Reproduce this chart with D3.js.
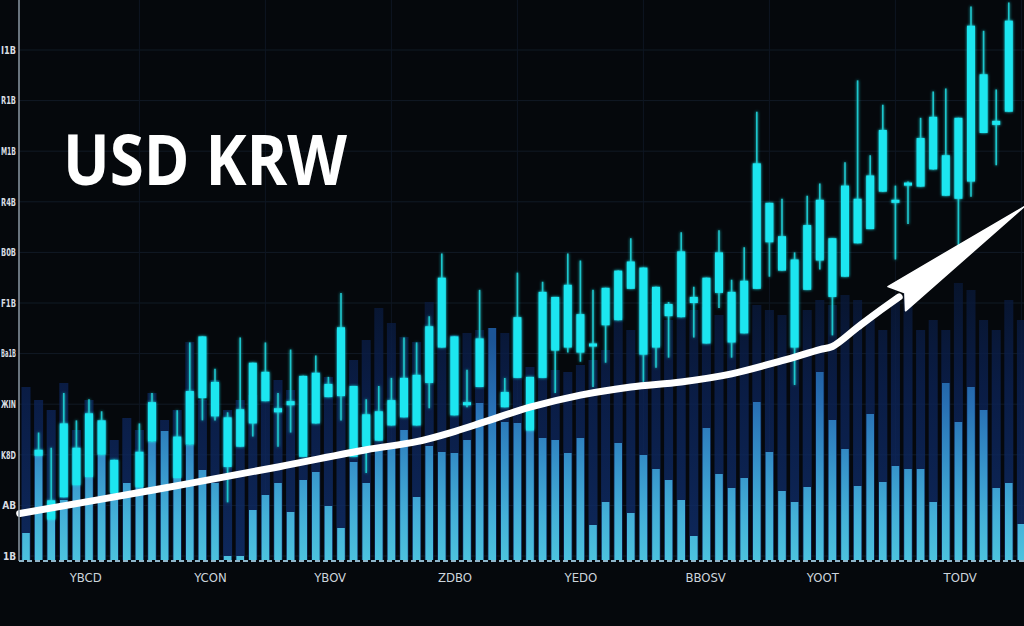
<!DOCTYPE html>
<html>
<head>
<meta charset="utf-8">
<script src="https://cdn.jsdelivr.net/npm/d3@7"></script>
<style>
  html, body { margin: 0; padding: 0; background: #05080c; }
  #chart { width: 1024px; height: 626px; }
</style>
</head>
<body>
<div id="chart"></div>
<script>
var title = 'USD KRW';

var yTickValues = [1000, 1050, 1100, 1150, 1200, 1250, 1300, 1350, 1400, 1450, 1500];
var yTickLabels = ['1B', 'AB', 'K8D', 'ЖIN', 'Ba1B', 'F1B', 'B0B', 'R4B', 'M1B', 'R1B', 'I1B'];

var xTickSlots = [4.7, 14.6, 24.1, 34, 44, 53.9, 63.2, 74.1];
var xTickLabels = ['YBCD', 'YCON', 'YBOV', 'ZDBO', 'YEDO', 'BBOSV', 'YOOT', 'TODV'];

// one entry per session, null where no candle shows
var highs = [null, 1122, 1107, 1161, 1134, 1155, 1143, 1095, null, 1131,
  1161, null, 1144, 1211, 1217, 1185, 1142, 1216, 1191, 1211,
  1161, 1204, 1178, 1198, 1177, 1260, 1168, 1155, 1168, 1176,
  1216, 1211, 1237, 1299, 1217, 1184, 1263, null, 1176, 1280,
  1177, 1271, 1256, 1299, 1292, 1263, 1265, 1282, 1314, 1285,
  1266, 1251, 1320, 1266, 1275, 1322, 1273, 1305, 1439, 1349,
  1353, 1300, 1356, 1368, 1314, 1389, 1470, 1396, 1446, 1366,
  1370, 1433, 1459, 1462, 1433, 1543, 1519, 1461, 1547, null];

var closes = [null, 1105, 1055, 1131, 1107, 1141, 1134, 1095, null, 1103,
  1152, null, 1118, 1163, 1217, 1172, 1137, 1145, 1191, 1182,
  1146, 1153, 1178, 1181, 1170, 1226, 1168, 1140, 1143, 1154,
  1176, 1179, 1227, 1275, 1217, 1152, 1215, null, 1162, 1236,
  1177, 1261, 1256, 1268, 1239, 1210, 1265, 1282, 1291, 1285,
  1266, 1249, 1301, 1256, 1275, 1300, 1261, 1272, 1388, 1349,
  1316, 1293, 1327, 1352, 1314, 1366, 1353, 1376, 1421, 1352,
  1369, 1413, 1434, 1396, 1433, 1524, 1476, 1430, 1529, null];

var opens = [null, 1099, 1036, 1058, 1070, 1078, 1100, 1062, null, 1068,
  1113, null, 1077, 1110, 1156, 1138, 1088, 1108, 1131, 1153,
  1142, 1149, 1098, 1131, 1157, 1158, 1098, 1108, 1114, 1129,
  1137, 1129, 1171, 1206, 1139, 1149, 1167, null, 1147, 1176,
  1124, 1176, 1203, 1206, 1201, 1207, 1228, 1233, 1264, 1199,
  1206, 1237, 1236, 1250, 1210, 1260, 1211, 1220, 1264, 1310,
  1282, 1206, 1263, 1292, 1256, 1276, 1309, 1323, 1360, 1349,
  1366, 1365, 1382, 1356, 1353, 1370, 1418, 1426, 1439, null];

var lows = [null, 1099, 1036, 1058, 1070, 1078, 1100, 1062, null, 1068,
  1113, null, 1077, 1110, 1134, 1134, 1053, 1108, 1118, 1153,
  1108, 1122, 1098, 1131, 1157, 1134, 1098, 1082, 1114, 1129,
  1137, 1129, 1146, 1206, 1139, 1147, 1167, null, 1147, 1176,
  1124, 1176, 1161, 1201, 1192, 1167, 1191, 1233, 1264, 1172,
  1186, 1196, 1236, 1216, 1210, 1245, 1196, 1220, 1264, 1276,
  1282, 1169, 1263, 1283, 1218, 1276, 1309, 1323, 1360, 1293,
  1328, 1365, 1382, 1356, 1307, 1355, 1418, 1386, 1439, null];

var volumes = [27, 110, 55, 60, 75, 83, 105, 67, 77, 73,
  118, 129, 82, 115, 90, 77, 4, 4, 50, 65,
  77, 48, 80, 88, 54, 32, 98, 77, 110, 113,
  130, 63, 114, 108, 107, 120, 157, 232, 138, 137,
  130, 122, 120, 107, 122, 35, 58, 117, 47, 105,
  91, 80, 60, 24, 132, 86, 72, 82, 158, 108,
  69, 58, 73, 188, 140, 111, 74, 146, 78, 94,
  91, 91, 58, 177, 138, 173, 150, 72, 77, 36];

// faint navy columns behind the volume
var depths = [173, 160, 150, 177, 130, 160, 140, 120, 142, 130,
  167, 140, 150, 218, 160, 180, 150, 160, 165, 180,
  180, 170, 184, 188, 183, 230, 200, 220, 252, 237,
  223, 218, 258, 240, 225, 227, 230, 232, 227, 230,
  193, 200, 190, 188, 195, 200, 210, 260, 230, 250,
  255, 240, 260, 250, 253, 245, 260, 240, 255, 250,
  245, 240, 250, 260, 255, 265, 260, 240, 230, 260,
  270, 230, 240, 230, 277, 270, 240, 230, 260, 240];

// trend arrow, last point is the tip of the head
var trendSlots = [-0.5, 10, 20, 27, 31, 34, 36.5, 40, 44, 48, 52, 56, 60, 63, 64, 66, 67.5, 69.3, 79.2];
var trendValues = [1042, 1065, 1088, 1105, 1113, 1123, 1133, 1147, 1159, 1167, 1172, 1180, 1193, 1204, 1207, 1226, 1240, 1256, 1345];

var W = 1024, H = 626;
var axisX = 19, axisY = 561;

var svg = d3.select('#chart').append('svg')
  .attr('width', W)
  .attr('height', H)
  .style('display', 'block')
  .style('background', '#05080c');

var x = d3.scaleLinear().domain([0, 79]).range([26, 26 + 12.6 * 79]);
var y = d3.scaleLinear().domain([1000, 1500]).range([556, 50]);
var v = d3.scaleLinear().domain([0, 300]).range([560, 260]);

var defs = svg.append('defs');

function gradient(id, stops, y1, y2) {
  var g = defs.append('linearGradient')
    .attr('id', id)
    .attr('gradientUnits', 'userSpaceOnUse')
    .attr('x1', 0).attr('x2', 0)
    .attr('y1', y1).attr('y2', y2);
  stops.forEach(function(s) {
    g.append('stop').attr('offset', s[0]).attr('stop-color', s[1]);
  });
}

gradient('volGrad', [[0, '#4cc2de'], [0.2, '#44b0d8'], [0.45, '#3590c8'],
  [0.7, '#2870b4'], [1, '#1c5596']], 560, 340);
gradient('depthGrad', [[0, '#10306f'], [0.6, '#0b2152'], [1, '#081631']], 560, 270);

var glow = defs.append('filter').attr('id', 'glow')
  .attr('x', '-50%').attr('y', '-10%').attr('width', '200%').attr('height', '120%');
glow.append('feGaussianBlur').attr('stdDeviation', 1.6).attr('result', 'b');
var merge = glow.append('feMerge');
merge.append('feMergeNode').attr('in', 'b');
merge.append('feMergeNode').attr('in', 'SourceGraphic');

// grid
var grid = svg.append('g');
grid.selectAll('line.h')
  .data(yTickValues)
  .enter().append('line')
  .attr('x1', axisX).attr('x2', W)
  .attr('y1', function(d) { return y(d); })
  .attr('y2', function(d) { return y(d); })
  .attr('stroke', '#111a25')
  .attr('stroke-width', 1);

grid.selectAll('line.v')
  .data(d3.range(9, 80, 10))
  .enter().append('line')
  .attr('x1', function(d) { return x(d); })
  .attr('x2', function(d) { return x(d); })
  .attr('y1', 0).attr('y2', axisY)
  .attr('stroke', '#0e1622')
  .attr('stroke-width', 1);

var slots = d3.range(volumes.length);

svg.append('g').selectAll('rect')
  .data(slots)
  .enter().append('rect')
  .attr('x', function(i) { return x(i) - 4.5; })
  .attr('width', 9)
  .attr('y', function(i) { return v(depths[i]); })
  .attr('height', function(i) { return v(0) - v(depths[i]); })
  .attr('fill', 'url(#depthGrad)')
  .attr('opacity', 0.8);

svg.append('g').selectAll('rect')
  .data(slots)
  .enter().append('rect')
  .attr('x', function(i) { return x(i) - 3.8; })
  .attr('width', 7.6)
  .attr('y', function(i) { return v(volumes[i]); })
  .attr('height', function(i) { return v(0) - v(volumes[i]); })
  .attr('fill', 'url(#volGrad)');

// candles
var candles = slots.filter(function(i) { return highs[i] !== null; });
var cg = svg.append('g').attr('filter', 'url(#glow)');

cg.selectAll('line')
  .data(candles)
  .enter().append('line')
  .attr('x1', function(i) { return x(i); })
  .attr('x2', function(i) { return x(i); })
  .attr('y1', function(i) { return y(highs[i]); })
  .attr('y2', function(i) { return y(lows[i]); })
  .attr('stroke', '#1cc6cc')
  .attr('stroke-width', 1.6);

cg.selectAll('rect')
  .data(candles)
  .enter().append('rect')
  .attr('x', function(i) { return x(i) - 4; })
  .attr('width', 8)
  .attr('y', function(i) { return y(Math.max(opens[i], closes[i])); })
  .attr('height', function(i) {
    return Math.max(3, Math.abs(y(opens[i]) - y(closes[i])));
  })
  .attr('fill', '#1ee6f0');

// trend arrow
var pts = trendSlots.map(function(s, i) { return [x(s), y(trendValues[i])]; });
var tip = pts[pts.length - 1];
var notch = pts[pts.length - 2];

var line = d3.line().curve(d3.curveCatmullRom.alpha(0.5));

svg.append('path')
  .attr('d', line(pts.slice(0, -1)))
  .attr('fill', 'none')
  .attr('stroke', '#ffffff')
  .attr('stroke-width', 7)
  .attr('stroke-linecap', 'round')
  .attr('stroke-linejoin', 'round');

var dx = tip[0] - notch[0], dy = tip[1] - notch[1];
var len = Math.sqrt(dx * dx + dy * dy);
var ux = dx / len, uy = dy / len;
var nx = -uy, ny = ux;
var head = [
  tip,
  [notch[0] - 15 * nx - 3 * ux, notch[1] - 15 * ny - 3 * uy],
  [notch[0] + 7 * ux, notch[1] + 7 * uy],
  [notch[0] + 15 * nx - 3 * ux, notch[1] + 15 * ny - 3 * uy]
];
svg.append('path')
  .attr('d', 'M' + head.join('L') + 'Z')
  .attr('fill', '#ffffff')
  .attr('stroke', '#ffffff')
  .attr('stroke-width', 1.5)
  .attr('stroke-linejoin', 'round');

// axes
var yAxis = d3.axisLeft(y)
  .tickValues(yTickValues)
  .tickFormat(function(d, i) { return yTickLabels[i]; })
  .tickSize(0)
  .tickPadding(3);

var ya = svg.append('g')
  .attr('transform', 'translate(' + axisX + ',0)')
  .call(yAxis);
ya.select('.domain').remove();
ya.selectAll('text')
  .attr('fill', '#d8dde2')
  .style('font-family', '"Liberation Sans Narrow", "DejaVu Sans Condensed", sans-serif')
  .style('font-weight', 'bold')
  .style('font-size', '10px')
  .each(function() {
    // squeeze the wider labels so they stay inside the left margin
    if (this.getComputedTextLength() > 15) {
      d3.select(this).attr('textLength', 15).attr('lengthAdjust', 'spacingAndGlyphs');
    }
  });

var xAxis = d3.axisBottom(x)
  .tickValues(xTickSlots)
  .tickFormat(function(d, i) { return xTickLabels[i]; })
  .tickSize(0)
  .tickPadding(12);

var xa = svg.append('g')
  .attr('transform', 'translate(0,' + axisY + ')')
  .call(xAxis);
xa.select('.domain').remove();
xa.selectAll('text')
  .attr('fill', '#cdd5dc')
  .style('font-family', '"Liberation Sans Narrow", "DejaVu Sans Condensed", sans-serif')
  .style('font-size', '13px');

svg.append('line')
  .attr('x1', axisX).attr('x2', axisX)
  .attr('y1', 0).attr('y2', axisY)
  .attr('stroke', '#8b98a4')
  .attr('stroke-width', 1.5);

svg.append('line')
  .attr('x1', axisX).attr('x2', W)
  .attr('y1', axisY).attr('y2', axisY)
  .attr('stroke', '#8fb6ca')
  .attr('stroke-width', 2)
  .attr('stroke-dasharray', '5,3');

svg.append('text')
  .attr('x', 63)
  .attr('y', 185)
  .attr('textLength', 284)
  .attr('lengthAdjust', 'spacingAndGlyphs')
  .attr('fill', '#ffffff')
  .style('font-family', '"Open Sans", "Noto Sans", sans-serif')
  .style('font-weight', 700)
  .style('font-size', '69px')
  .text(title);
</script>
</body>
</html>
